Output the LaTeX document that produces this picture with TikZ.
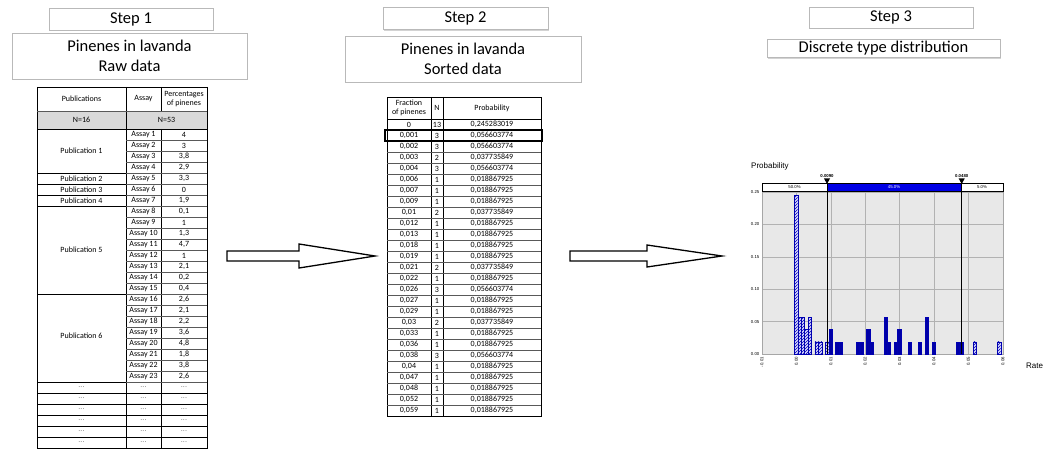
\documentclass[tikz,border=0pt]{standalone}
\usepackage{fontspec}
\setmainfont{Carlito}
\newfontfamily\chartfont{Liberation Sans}
\usepackage{tikz}
\usetikzlibrary{calc}
\usetikzlibrary{patterns,arrows.meta}
\usetikzlibrary{shadows}

\begin{document}
\begin{tikzpicture}[x=1pt, y=-1pt,
    titlebox/.style={draw=gray!55, line width=0.7pt, fill=white, inner sep=0pt, align=center,
        drop shadow={shadow xshift=1.2pt, shadow yshift=-1.2pt, opacity=0.35}},
    cell/.style={inner sep=0pt, align=center, font=\fontsize{8}{9.5}\selectfont},
    dots/.style={cell, text=gray},
    gridline/.style={gray!70!black, line width=0.5pt},
    boldline/.style={black, line width=0.8pt},
    blockarrow/.style={draw=black, line width=1.3pt, fill=white, line join=miter},
    chartlabel/.style={inner sep=0.5pt, font=\chartfont\fontsize{4.3}{5}\selectfont},
    plotgrid/.style={gray!60, line width=0.4pt},
    solidbar/.style={draw=blue!70!black, fill=blue!65!black, line width=0.3pt},
    hatchbar/.style={draw=blue!70!black, fill=blue!15, line width=0.3pt,
        postaction={pattern=north east lines, pattern color=blue!70!black}},
    marker/.style={black, line width=0.6pt}]

    \useasboundingbox (0,0) rectangle (1047,449);

    %STEP BOXES
    \node[titlebox, minimum width=164pt, minimum height=22pt, font=\fontsize{16.5}{18}\selectfont] (step1) at (131,19) {Step 1};
    \node[titlebox, minimum width=235pt, minimum height=46pt, font=\fontsize{16.5}{20}\selectfont] (title1) at (129.5,56) {Pinenes in lavanda\\Raw data};
    \node[titlebox, minimum width=165pt, minimum height=22pt, font=\fontsize{16.5}{18}\selectfont] (step2) at (465.5,18.5) {Step 2};
    \node[titlebox, minimum width=236pt, minimum height=46pt, font=\fontsize{16.5}{20}\selectfont] (title2) at (463,59) {Pinenes in lavanda\\Sorted data};
    \node[titlebox, minimum width=164pt, minimum height=21pt, font=\fontsize{16.5}{18}\selectfont] (step3) at (891,17.5) {Step 3};
    \node[titlebox, minimum width=233pt, minimum height=18pt, font=\fontsize{16.5}{18}\selectfont] (title3) at (883.5,48.5) {Discrete type distribution};

    %TABLE 1
    \fill[gray!30] (37,111) rectangle (207,129);
    \draw[boldline] (37,87) -- (207,87);
    \draw[boldline] (37,87) -- (37,449);
    \draw[boldline] (207,87) -- (207,449);
    \draw[boldline] (126,87) -- (126,449);
    \draw[boldline] (161,87) -- (161,111);
    \draw[boldline] (161,129) -- (161,449);
    \draw[gridline] (37,111) -- (207,111);
    \foreach \y in {129,173,184,195,206,294,382,393,404,415,426,437,448}
        \draw[boldline] (37,\y) -- (207,\y);
    \foreach \i in {1,...,23}
        \draw[gridline] (126,{129+11*\i}) -- (207,{129+11*\i});

    \node[cell] (hpub) at (81.5,99) {Publications};
    \node[cell] (hasy) at (143.5,99) {Assay};
    \node[cell] (hpct) at (184,99) {Percentages\\of pinenes};
    \node[cell] (nrows) at (81.5,120) {N=16};
    \node[cell] (nvals) at (166.5,120) {N=53};
    \foreach \k/\y in {1/151,2/178.5,3/189.5,4/200.5,5/250,6/336}
        \node[cell] (pub\k) at (81.5,\y) {Publication \k};
    \foreach \i/\v in {1/4,2/3,3/{3,8},4/{2,9},5/{3,3},6/0,7/{1,9},8/{0,1},9/1,10/{1,3},11/{4,7},12/1,
        13/{2,1},14/{0,2},15/{0,4},16/{2,6},17/{2,1},18/{2,2},19/{3,6},20/{4,8},21/{1,8},22/{3,8},23/{2,6}}{
        \node[cell] (asy\i) at (143.5,{123.5+11*\i}) {Assay \i};
        \node[cell] (pct\i) at (184,{123.5+11*\i}) {\v};
    }
    \foreach \j in {1,...,6}{
        \node[dots] (dpub\j) at (81.5,{376.5+11*\j}) {...};
        \node[dots] (dasy\j) at (143.5,{376.5+11*\j}) {...};
        \node[dots] (dpct\j) at (184,{376.5+11*\j}) {...};
    }

    %ARROWS
    \draw[blockarrow] (227,251) -- (299,251) -- (299,244) -- (375,256) -- (299,268) -- (299,261) -- (227,261) -- cycle;
    \draw[blockarrow] (570,251) -- (647,251) -- (647,245) -- (722,256) -- (647,267) -- (647,261) -- (570,261) -- cycle;

    %TABLE 2
    \draw[boldline] (387,97) rectangle (541,416);
    \draw[boldline] (431,97) -- (431,416);
    \draw[boldline] (443,97) -- (443,416);
    \draw[boldline] (387,119) -- (541,119);
    \foreach \i in {1,...,26}
        \draw[gridline] (387,{119+11*\i}) -- (541,{119+11*\i});
    \node[cell] (hfrac) at (409,108) {Fraction\\of pinenes};
    \node[cell] (hnum) at (437,108) {N};
    \node[cell] (hprob) at (492,108) {Probability};
    \foreach \i/\f/\n/\p in {1/0/13/{0,245283019},2/{0,001}/3/{0,056603774},3/{0,002}/3/{0,056603774},
        4/{0,003}/2/{0,037735849},5/{0,004}/3/{0,056603774},6/{0,006}/1/{0,018867925},
        7/{0,007}/1/{0,018867925},8/{0,009}/1/{0,018867925},9/{0,01}/2/{0,037735849},
        10/{0,012}/1/{0,018867925},11/{0,013}/1/{0,018867925},12/{0,018}/1/{0,018867925},
        13/{0,019}/1/{0,018867925},14/{0,021}/2/{0,037735849},15/{0,022}/1/{0,018867925},
        16/{0,026}/3/{0,056603774},17/{0,027}/1/{0,018867925},18/{0,029}/1/{0,018867925},
        19/{0,03}/2/{0,037735849},20/{0,033}/1/{0,018867925},21/{0,036}/1/{0,018867925},
        22/{0,038}/3/{0,056603774},23/{0,04}/1/{0,018867925},24/{0,047}/1/{0,018867925},
        25/{0,048}/1/{0,018867925},26/{0,052}/1/{0,018867925},27/{0,059}/1/{0,018867925}}{
        \node[cell] (frac\i) at (409,{113.5+11*\i}) {\f};
        \node[cell] (num\i) at (437,{113.5+11*\i}) {\n};
        \node[cell] (prob\i) at (492,{113.5+11*\i}) {\p};
    }
    \draw[black, line width=1.6pt] (385,130) rectangle (542,141);

    %CHART
    \fill[gray!18] (762,191) rectangle (1003,354);
    \foreach \k in {0,...,7}
        \draw[plotgrid] ({762+34.4*\k},191) -- ({762+34.4*\k},354);
    \foreach \k in {0,...,5}
        \draw[plotgrid] (762,{354-32.4*\k}) -- (1003,{354-32.4*\k});
    \draw[gray!70, line width=0.4pt] (762,191) rectangle (1003,354);
    \foreach \v/\p/\s in {0/0.2453/hatchbar,0.001/0.0566/hatchbar,0.002/0.0566/hatchbar,0.003/0.0377/hatchbar,
        0.004/0.0566/hatchbar,0.006/0.0189/hatchbar,0.007/0.0189/hatchbar,0.009/0.0189/hatchbar,
        0.01/0.0377/solidbar,0.012/0.0189/solidbar,0.013/0.0189/solidbar,0.018/0.0189/solidbar,
        0.019/0.0189/solidbar,0.021/0.0377/solidbar,0.022/0.0189/solidbar,0.026/0.0566/solidbar,
        0.027/0.0189/solidbar,0.029/0.0189/solidbar,0.03/0.0377/solidbar,0.033/0.0189/solidbar,
        0.036/0.0189/solidbar,0.038/0.0566/solidbar,0.04/0.0189/solidbar,0.047/0.0189/solidbar,
        0.048/0.0189/solidbar,0.052/0.0189/hatchbar,0.059/0.0189/hatchbar}
        \draw[\s] ({796+3440*\v-1.7},354) rectangle ({796+3440*\v+1.7},{354-648*\p});
    \foreach \k/\t in {0/-0.01,1/0.00,2/0.01,3/0.02,4/0.03,5/0.04,6/0.05,7/0.06}
        \node[chartlabel, rotate=90, anchor=east] (xtick\k) at ({762+34.4*\k},356.5) {\t};
    \foreach \k/\t in {0/0.00,1/0.05,2/0.10,3/0.15,4/0.20,5/0.25}
        \node[chartlabel, anchor=east] (ytick\k) at (760,{354-32.4*\k}) {\t};

    \draw[black, line width=0.5pt, fill=white] (762,183) rectangle (1003,191);
    \fill[blue!90!black] (827,183) rectangle (961.7,191);
    \draw[black, line width=0.5pt] (762,183) rectangle (1003,191);
    \node[chartlabel] (pleft) at (794.5,187) {50.0\%};
    \node[chartlabel, text=white] (pmid) at (894,187) {45.0\%};
    \node[chartlabel] (pright) at (982,187) {5.0\%};

    \draw[marker] (827,183) -- (827,354);
    \draw[marker] (961.7,183) -- (961.7,354);
    \fill (824,178.5) -- (830,178.5) -- (827,184) -- cycle;
    \fill (958.7,178.5) -- (964.7,178.5) -- (961.7,184) -- cycle;
    \node[chartlabel, anchor=south] (mlow) at (827,178) {\bfseries 0.0090};
    \node[chartlabel, anchor=south] (mhigh) at (961.7,178) {\bfseries 0.0480};

    \node[anchor=west, inner sep=0pt, font=\chartfont\fontsize{8}{9}\selectfont] (ylabel) at (751,166) {Probability};
    \node[anchor=west, inner sep=0pt, font=\chartfont\fontsize{8}{9}\selectfont] (xlabel) at (1026,366) {Rate};
\end{tikzpicture}
\end{document}
